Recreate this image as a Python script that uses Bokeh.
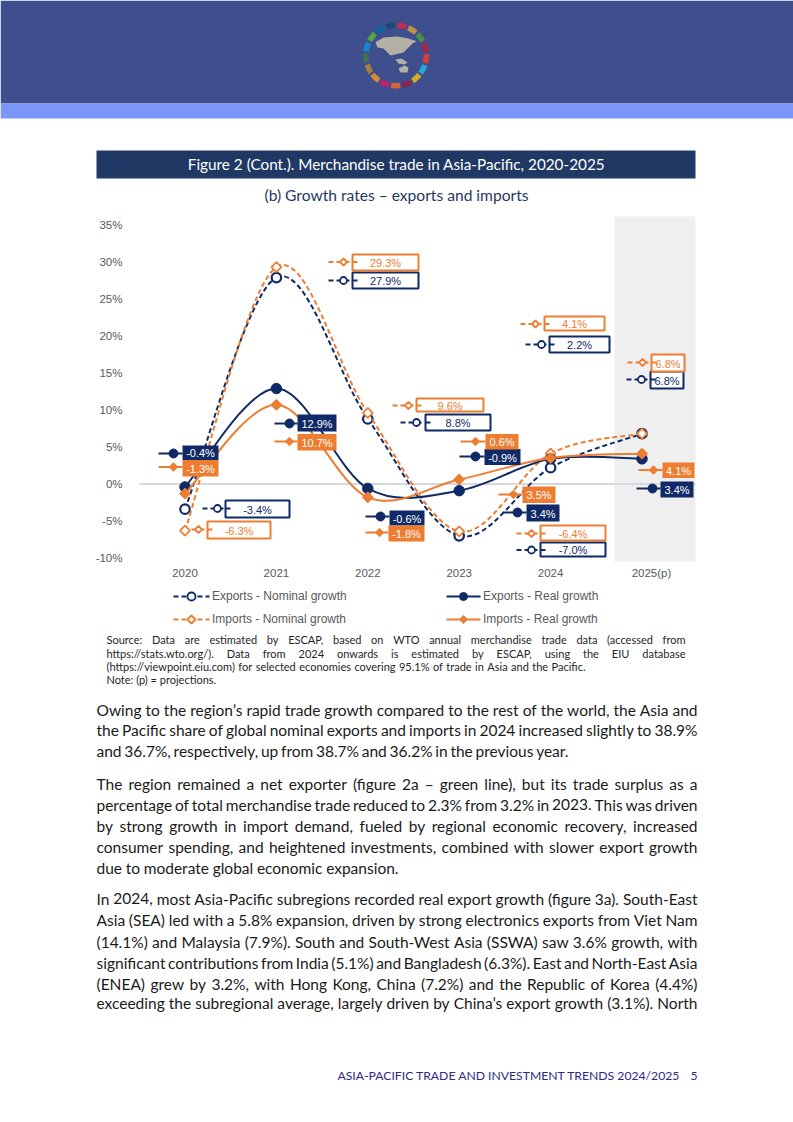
import glob, math
from bokeh.plotting import figure
from bokeh.models import Range1d, LinearAxis, FixedTicker
from bokeh.core.properties import value
from bokeh.embed import file_html
from bokeh.resources import INLINE

# ---- chart data ----
years = [2020, 2021, 2022, 2023, 2024, 2025]
exports_nominal = [-3.4, 27.9, 8.8, -7.0, 2.2, 6.8]
imports_nominal = [-6.3, 29.3, 9.6, -6.4, 4.1, 6.8]
exports_real = [-0.4, 12.9, -0.6, -0.9, 3.4, 3.4]
imports_real = [-1.3, 10.7, -1.8, 0.6, 3.5, 4.1]
y_ticks = [-10, -5, 0, 5, 10, 15, 20, 25, 30, 35]

NAVY = "#0f2a66"
ORANGE = "#ed7d31"
GREY = "#595959"
BODY_FONT = "Lato"
CHART_FONT = "Liberation Sans"

# ---- callout placement in page pixels: (box left, right, top, bottom, key start, key marker x, key y) ----
callouts_exports_nominal = [(225, 289, 500, 517, 202, 217, 508), (352, 418, 272, 288, 328, 343, 280),
                            (425, 490, 414, 430, 400, 416, 422), (540, 605, 542, 556, 516, 531, 549.5),
                            (549, 609, 336, 352, 525, 541, 344), (650, 683, 371, 388, 626, 641, 379)]
callouts_imports_nominal = [(207, 270, 521, 538, 191, 198, 529), (352, 418, 254, 270, 328, 343, 261.5),
                            (416, 483, 398, 411, 392, 408, 405), (540, 605, 525, 540, 516, 531, 533),
                            (544, 604, 316, 330, 520, 535, 323.5), (651, 684, 354, 371, 627, 642, 362)]
callouts_exports_real = [(182, 218, 445, 459.5, 158, 173, 453), (297, 336, 414, 431, 274, 289, 423),
                         (389, 424, 510, 525, 365, 380, 516), (484, 520, 448.5, 464.5, 459, 475, 456),
                         (526, 559, 504, 521, 502, 517, 512), (660, 693, 481, 497, 636, 652, 488)]
callouts_imports_real = [(182, 218, 459.5, 476, 158, 173, 466.5), (297, 336, 433.5, 450, 274, 289, 441),
                         (388, 424, 525, 541, 365, 379, 532), (485, 518, 433.5, 449, 460, 475, 441),
                         (522, 555, 486, 502.5, 498, 513, 494), (662, 694, 462, 477.5, 638, 653, 469.5)]

# ---- page text: (line, y, right end, font size; a right end of None keeps the natural width) ----
source_lines = [
    ("Source: Data are estimated by ESCAP, based on WTO annual merchandise trade data (accessed from", 640, 685, 11.0),
    ("https://stats.wto.org/). Data from 2024 onwards is estimated by ESCAP, using the EIU database", 654, 685, 11.0),
    ("(https://viewpoint.eiu.com) for selected economies covering 95.1% of trade in Asia and the Pacific.", 667, 585, 11.0),
    ("Note: (p) = projections.", 680, None, 11.0),
]
body_lines = [
    ("Owing to the region’s rapid trade growth compared to the rest of the world, the Asia and", 710, 697, 15.5),
    ("the Pacific share of global nominal exports and imports in 2024 increased slightly to 38.9%", 730.5, 697, 15.5),
    ("and 36.7%, respectively, up from 38.7% and 36.2% in the previous year.", 751, 568, 15.5),
    ("The region remained a net exporter (figure 2a – green line), but its trade surplus as a", 784, 697, 15.5),
    ("percentage of total merchandise trade reduced to 2.3% from 3.2% in 2023. This was driven", 805, 697, 15.5),
    ("by strong growth in import demand, fueled by regional economic recovery, increased", 826, 697, 15.5),
    ("consumer spending, and heightened investments, combined with slower export growth", 847, 697, 15.5),
    ("due to moderate global economic expansion.", 868, 398, 15.5),
    ("In 2024, most Asia-Pacific subregions recorded real export growth (figure 3a). South-East", 899, 697, 15.5),
    ("Asia (SEA) led with a 5.8% expansion, driven by strong electronics exports from Viet Nam", 920.5, 697, 15.5),
    ("(14.1%) and Malaysia (7.9%). South and South-West Asia (SSWA) saw 3.6% growth, with", 942, 697, 15.5),
    ("significant contributions from India (5.1%) and Bangladesh (6.3%). East and North-East Asia", 963, 697, 15.5),
    ("(ENEA) grew by 3.2%, with Hong Kong, China (7.2%) and the Republic of Korea (4.4%)", 984, 697, 15.5),
    ("exceeding the subregional average, largely driven by China’s export growth (3.1%). North", 1003.5, 697, 15.5),
]

# ---- logo ----
sdg_colours = ["#19486a", "#e5243b", "#dda63a", "#4c9f38", "#c5192d", "#ff3a21", "#26bde2", "#fcc30b", "#a21942",
               "#fd6925", "#dd1367", "#fd9d24", "#bf8b2e", "#3f7e44", "#0a97d9", "#56c02b", "#00689d"]

# ---- figure: the data scale is the chart's, the "page" scale is page pixels ----
PX_PER_YEAR = 91.4
PX_PER_PCT = 7.4
X2020 = 184.5
Y0 = 483.5
W, H = 793, 1122
p = figure(width=W, height=H, output_backend="svg", toolbar_location=None, min_border=0,
           x_axis_type=None, y_axis_type=None, outline_line_color=None,
           x_range=Range1d(2020 - X2020 / PX_PER_YEAR, 2020 + (W - X2020) / PX_PER_YEAR),
           y_range=Range1d(-(H - Y0) / PX_PER_PCT, Y0 / PX_PER_PCT))
p.extra_x_ranges["page"] = Range1d(0, W)
p.extra_y_ranges["page"] = Range1d(H, 0)
PG = dict(x_range_name="page", y_range_name="page")


def to_year(px):
    return 2020 + (px - X2020) / PX_PER_YEAR


def to_pct(py):
    return (Y0 - py) / PX_PER_PCT


FONT_HITS = glob.glob("/usr/**/" + BODY_FONT + "-Regular.ttf", recursive=True)


def measure(s, size):
    try:
        from PIL import ImageFont
        return ImageFont.truetype(FONT_HITS[0], 200).getlength(s) * size / 200
    except Exception:
        return len(s) * size * 0.47


def text(xs, ys, ss, size, font=BODY_FONT, color="#1a1a1a", align="left"):
    # Bokeh's "middle" baseline sits about a pixel low against the reference
    p.text(x=xs, y=[v - 1 for v in ys], text=ss, text_font=value(font), text_font_size=value(f"{size}px"), text_color=color,
           text_align=align, text_baseline="middle", **PG)


def paragraph(lines, left, color):
    for line, y, right, size in lines:
        if right is None:
            text([left], [y], [line], size, color=color)
            continue
        words = line.split(" ")
        ws = [measure(w, size) for w in words]
        gap = (right - left - sum(ws)) / (len(words) - 1)
        xs, cur = [], left
        for w in ws:
            xs.append(cur)
            cur += w + gap
        text(xs, [y] * len(words), words, size, color=color)


# page furniture
p.quad(left=[0], right=[W], top=[0], bottom=[103], fill_color="#3f4e8c", line_color=None, **PG)
p.quad(left=[0], right=[W], top=[103], bottom=[118], fill_color="#7b95f8", line_color=None, **PG)
p.quad(left=[96], right=[695], top=[150], bottom=[178], fill_color="#1f3864", line_color=None, **PG)

# logo ring and map
CX, CY, RO, RI = 395.5, 55, 33, 27.5
for i, colour in enumerate(sdg_colours):
    mid = -10 + i * 360 / len(sdg_colours)
    angs = [math.radians(mid - 8.5 + 17 * k / 6) for k in range(7)]
    xs = [CX + RO * math.sin(a) for a in angs] + [CX + RI * math.sin(a) for a in reversed(angs)]
    ys = [CY - RO * math.cos(a) for a in angs] + [CY - RI * math.cos(a) for a in reversed(angs)]
    p.patch(xs, ys, fill_color=colour, fill_alpha=0.8, line_color=None, **PG)
logo_land = [
    ([375, 383, 397, 408, 416, 412, 408, 403, 390, 383, 377], [41.7, 37, 36, 38, 40.7, 43, 47, 52, 55, 48, 47]),
    ([395, 401, 407, 404, 398], [59, 58, 62, 64, 63]),
    ([398, 404, 408, 407, 400], [68, 65, 67, 72, 72]),
]
for xs, ys in logo_land:
    p.patch(xs, ys, fill_color="#b3b1a6", line_color=None, **PG)

# headings
text([396], [164], ["Figure 2 (Cont.). Merchandise trade in Asia-Pacific, 2020-2025"], 15.3, color="white", align="center")
text([396], [195], ["(b) Growth rates – exports and imports"], 15.6, color="#1f3864", align="center")

# projection band and zero line
p.quad(left=[to_year(614)], right=[to_year(695)], top=[to_pct(216)], bottom=[to_pct(561)], fill_color="#efefef", line_color=None)
p.line([to_year(139), to_year(695)], [0, 0], line_color="#d9d9d9", line_width=2)

# axes: fixed inside the frame
yaxis = LinearAxis(ticker=FixedTicker(ticks=y_ticks), fixed_location=to_year(131),
                   axis_line_color=None, major_tick_line_color=None, minor_tick_line_color=None,
                   major_label_standoff=3, major_label_text_color=GREY, major_label_text_font=CHART_FONT,
                   major_label_text_font_size="11.5px", major_label_overrides={t: f"{t}%" for t in y_ticks})
p.add_layout(yaxis, "left")
xaxis = LinearAxis(ticker=FixedTicker(ticks=years[:-1]), fixed_location=to_pct(561),
                   axis_line_color=None, major_tick_line_color=None, minor_tick_line_color=None,
                   major_label_standoff=1, major_label_text_color=GREY, major_label_text_font=CHART_FONT,
                   major_label_text_font_size="11.5px", major_label_overrides={t: str(t) for t in years[:-1]})
p.add_layout(xaxis, "below")
text([651], [573], [f"{years[-1]}(p)"], 11.5, font=CHART_FONT, color=GREY, align="center")


def smooth(xs, ys, color, dash):
    x0, y0, x1, y1, cx0, cy0, cx1, cy1 = [], [], [], [], [], [], [], []
    n = len(xs)
    for i in range(n - 1):
        a, b = max(i - 1, 0), min(i + 2, n - 1)
        x0.append(xs[i]); y0.append(ys[i]); x1.append(xs[i + 1]); y1.append(ys[i + 1])
        cx0.append(xs[i] + (xs[i + 1] - xs[a]) / 6); cy0.append(ys[i] + (ys[i + 1] - ys[a]) / 6)
        cx1.append(xs[i + 1] - (xs[b] - xs[i]) / 6); cy1.append(ys[i + 1] - (ys[b] - ys[i]) / 6)
    p.bezier(x0=x0, y0=y0, x1=x1, y1=y1, cx0=cx0, cy0=cy0, cx1=cx1, cy1=cy1,
             line_color=color, line_width=2, line_dash=dash)


def marker(xs, ys, kind, size, fill, color, lw, **kw):
    # a diamond is a square turned by 45 degrees, so that it is as wide as it is tall
    if kind == "diamond":
        p.scatter(xs, ys, marker="square", angle=math.pi / 4, size=size / 1.414, fill_color=fill, line_color=color, line_width=lw, **kw)
    else:
        p.scatter(xs, ys, marker="circle", size=size, fill_color=fill, line_color=color, line_width=lw, **kw)


series = [
    (exports_nominal, NAVY, "5 3", "circle", 9.5, "white", 2.2, callouts_exports_nominal),
    (imports_nominal, ORANGE, "5 3", "diamond", 10, "white", 1.8, callouts_imports_nominal),
    (exports_real, NAVY, "solid", "circle", 10.5, NAVY, 1, callouts_exports_real),
    (imports_real, ORANGE, "solid", "diamond", 11, ORANGE, 1, callouts_imports_real),
]
for vals, color, dash, mk, size, fill, lw, _ in series:
    smooth(years, vals, color, dash)
    marker(years, vals, mk, size, fill, color, lw)

# callouts
for vals, color, dash, mk, size, fill, lw, placements in series:
    nominal = fill == "white"
    for v, (l, r, t, b, kx, mx, ky) in zip(vals, placements):
        p.quad(left=[l], right=[r], top=[t], bottom=[b], fill_color="white" if nominal else color,
               line_color=color, line_width=2 if nominal else 0, **PG)
        if nominal:
            p.line([kx, mx + 8], [ky, ky], line_color=color, line_width=2, line_dash=dash, **PG)
            p.line([l, l + 5], [ky, ky], line_color=color, line_width=2, **PG)
            marker([mx], [ky], mk, 7, fill, color, 1.8, **PG)
        else:
            p.line([kx, l], [ky, ky], line_color=color, line_width=2, **PG)
            marker([mx], [ky], mk, 9 if mk == "circle" else 8.5, fill, color, 1, **PG)
        text([(l + r) / 2], [(t + b) / 2 + 1.5], [f"{v}%"], 11, font=CHART_FONT, color=color if nominal else "white", align="center")

# legend
legend_rows = [("Exports - Nominal growth", 173, 209, 191, 596, 0), ("Imports - Nominal growth", 173, 209, 191, 619, 1),
               ("Exports - Real growth", 446, 480, 463, 596, 2), ("Imports - Real growth", 446, 480, 463, 619, 3)]
for label, x0, x1, xm, y, idx in legend_rows:
    _, color, dash, mk, size, fill, lw, _ = series[idx]
    p.line([x0, x1], [y, y], line_color=color, line_width=2, line_dash=dash, **PG)
    marker([xm], [y], mk, 8, fill, color, 1.8 if fill == "white" else 1, **PG)
    text([x1 + 2.5], [y], [label], 12, font=CHART_FONT, color=GREY)

# body text
paragraph(source_lines, 106, "#262626")
paragraph(body_lines, 96, "#1a1a1a")
text([337], [1076], ["ASIA-PACIFIC TRADE AND INVESTMENT TRENDS 2024/2025"], 12.2, color="#2e2a86")
text([697], [1076], ["5"], 12.2, color="#2e2a86", align="right")

open("out.html", "w").write(file_html(p, INLINE))
